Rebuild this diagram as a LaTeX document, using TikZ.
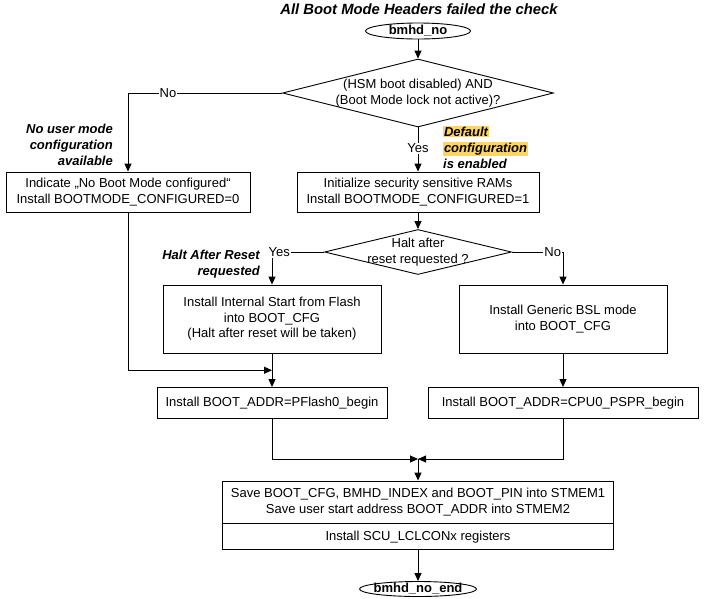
\documentclass[tikz,border=0pt]{standalone}
\usepackage{fontspec}
\setmainfont{Liberation Sans}
\usetikzlibrary{arrows.meta, positioning, shapes.geometric, calc}
\definecolor{hlyellow}{RGB}{255,212,96}
\newcommand{\hlword}[1]{{\setlength{\fboxsep}{0.8pt}\colorbox{hlyellow}{#1}}}

\begin{document}
\begin{tikzpicture}[x=1pt, y=-1pt,
    font=\fontsize{13}{15.5}\selectfont,
    box/.style={draw, line width=0.9pt, inner sep=0pt, align=center},
    decision/.style={draw, diamond, line width=0.9pt, inner sep=0pt},
    terminal/.style={draw, ellipse, line width=0.9pt, inner sep=0pt},
    flow/.style={line width=0.9pt, -{Triangle[length=8pt, width=7pt]}},
    lbl/.style={fill=white, inner sep=1pt},
    note/.style={inner sep=0pt, font=\fontsize{13}{16}\selectfont\bfseries\itshape}]
    \useasboundingbox (0,0) rectangle (711,598);

    \node[font=\fontsize{14.8}{17}\selectfont\bfseries\itshape] (title) at (419,9) {All Boot Mode Headers failed the check};

    % start and first check
    \node[terminal, minimum width=105pt, minimum height=16pt] (start) at (418,31) {};
    \node[font=\fontsize{13}{15.5}\selectfont\bfseries] (starttxt) at (start.center) {bmhd\_no};
    \node[decision, minimum width=271pt, minimum height=68pt] (hsm) at (418,93) {};
    \node[align=center] (hsmtxt) at (hsm.center) {(HSM boot disabled) AND\\(Boot Mode lock not active)?};

    \node[box, minimum width=244pt, minimum height=40pt] (nocfg) at (128,192) {Indicate „No Boot Mode configured“\\Install BOOTMODE\_CONFIGURED=0};
    \node[box, minimum width=242pt, minimum height=40pt] (initram) at (418,192) {Initialize security sensitive RAMs\\Install BOOTMODE\_CONFIGURED=1};

    % halt after reset
    \node[decision, minimum width=187pt, minimum height=45pt] (halt) at (418,252) {};
    \node[align=center] (halttxt) at (halt.center) {Halt after\\reset requested ?};

    \node[box, minimum width=218pt, minimum height=68pt] (intflash) at (272,319) {Install Internal Start from Flash\\into BOOT\_CFG\\(Halt after reset will be taken)};
    \node[box, minimum width=208pt, minimum height=68pt] (bsl) at (563,319) {Install Generic BSL mode\\into BOOT\_CFG};
    \node[box, minimum width=230pt, minimum height=31pt] (pflash) at (272,403) {Install BOOT\_ADDR=PFlash0\_begin};
    \node[box, minimum width=270pt, minimum height=31pt] (pspr) at (563,403) {Install BOOT\_ADDR=CPU0\_PSPR\_begin};

    % common end
    \node[box, minimum width=391pt, minimum height=42pt] (save) at (418,502) {Save BOOT\_CFG, BMHD\_INDEX and BOOT\_PIN into STMEM1\\Save user start address BOOT\_ADDR into STMEM2};
    \node[box, minimum width=391pt, minimum height=26pt, anchor=north] (lclcon) at (save.south) {Install SCU\_LCLCONx registers};
    \node[terminal, minimum width=117pt, minimum height=15pt] (stop) at (418,589) {};
    \node[font=\fontsize{13}{15.5}\selectfont\bfseries] (stoptxt) at (stop.center) {bmhd\_no\_end};

    % side notes
    \node[note, anchor=east, align=right] (nouser) at (113,145) {No user mode\\configuration\\available};
    \node[note, anchor=west, align=left] (defcfg) at (443,147) {\hlword{Default}\\\hlword{configuration}\\is enabled};
    \node[note, anchor=east, align=right] (haltreq) at (260,264) {Halt After Reset\\requested};

    \draw[flow] (start.south) -- (hsm.north);
    \draw[flow] (hsm.west) -| node[lbl, pos=0.37] {No} (nocfg.north);
    \draw[flow] (hsm.south) -- node[lbl, pos=0.47] {Yes} (initram.north);
    \draw[flow] (initram.south) -- (halt.north);
    \draw[flow] (halt.west) -| node[lbl, pos=0.43] {Yes} (intflash.north);
    \draw[flow] (halt.east) -| node[lbl, pos=0.4] {No} (bsl.north);

    \coordinate (join1) at ($(intflash.south)!0.5!(pflash.north)$);
    \draw[flow] (nocfg.south) |- (join1);
    \draw[flow] (intflash.south) -- (pflash.north);
    \draw[flow] (bsl.south) -- (pspr.north);

    \coordinate (join2) at (418,459);
    \draw[flow] (pflash.south) |- (join2);
    \draw[flow] (pspr.south) |- (join2);
    \draw[flow] (join2) -- (save.north);
    \draw[flow] (lclcon.south) -- (stop.north);
\end{tikzpicture}
\end{document}
